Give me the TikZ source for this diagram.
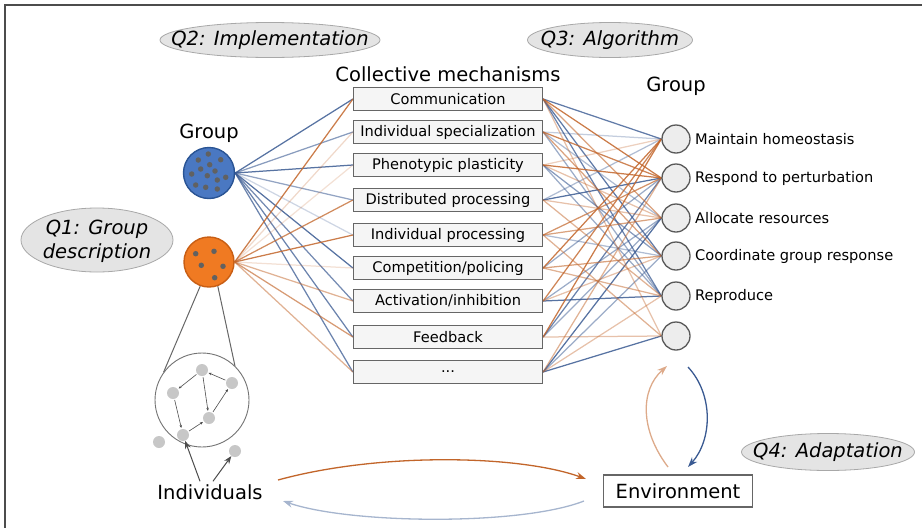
\documentclass[tikz,border=0pt]{standalone}
\usepackage{fontspec}
\setmainfont{DejaVu Sans}
\usetikzlibrary{shapes.geometric,arrows.meta,calc}
\pgfdeclarelayer{bg}
\pgfsetlayers{bg,main}
\definecolor{lb}{HTML}{3A5A92}
\definecolor{lo}{HTML}{C2652A}
\definecolor{gblue}{HTML}{4A78C2}
\definecolor{gblueb}{HTML}{2A5494}
\definecolor{gor}{HTML}{F07A22}
\definecolor{gorb}{HTML}{C85E14}
\definecolor{qfill}{HTML}{E4E4E4}
\definecolor{qdraw}{HTML}{A8A8A8}
\newcommand{\bigf}{\fontsize{19.5}{22}\selectfont}
\newcommand{\smf}{\fontsize{14.6}{17}\selectfont}
\newcommand{\mydots}{...}
\tikzset{
  frameline/.style={draw=black!70, line width=2},
  mechbox/.style={draw=black!60, fill=black!4, line width=1.2, minimum width=189, minimum height=23, inner sep=0, font=\smf},
  outc/.style={circle, draw=black!65, fill=black!7, line width=1.3, minimum size=28, inner sep=0},
  qtext/.style={inner sep=0, font=\bigf\itshape},
  qell/.style={draw=qdraw, fill=qfill, line width=0.8},
  dotg/.style={circle, fill=black!62, minimum size=5.5, inner sep=0},
  netdot/.style={circle, fill=black!22, minimum size=12, inner sep=0},
  link/.style={line width=1.25},
  netarrow/.style={draw=black!70, line width=0.6, -{Stealth[length=3pt,width=2.5pt]}, shorten >=1pt, shorten <=1pt},
  lbl/.style={inner sep=0, font=\bigf},
  rlbl/.style={inner sep=0, font=\smf, anchor=west}
}
\begin{document}
\begin{tikzpicture}[x=1pt,y=-1pt]
\useasboundingbox (0,0) rectangle (922,528);
\draw[frameline] (5,528) -- (5,5) -- (922,5);

% Question labels with ellipses
\node[qtext] (q2) at (270,40) {Q2: Implementation};
\node[qtext] (q3) at (610,40) {Q3: Algorithm};
\node[qtext, align=center] (q1) at (97,241) {Q1: Group\\[2pt]description};
\node[qtext] (q4) at (828,452) {Q4: Adaptation};
\begin{pgfonlayer}{bg}
\path[qell] (97,240) ellipse [x radius=76, y radius=32];
\path[qell] (q2) ellipse [x radius=110, y radius=17.5];
\path[qell] (q3) ellipse [x radius=82.5, y radius=17.5];
\path[qell] (q4) ellipse [x radius=86.5, y radius=18.5];
\end{pgfonlayer}

% Titles
\node[lbl] (tcm) at (448,74) {Collective mechanisms};
\node[lbl] (tgl) at (209,133) {Group};
\node[lbl] (tgr) at (676,86) {Group};

% Mechanism boxes
\foreach \y/\t [count=\i] in {99/Communication, 132/Individual specialization, 165/Phenotypic plasticity, 200/Distributed processing, 235/Individual processing, 268/Competition\slash policing, 301/Activation\slash inhibition, 337/Feedback, 372/\mydots}
  \node[mechbox] (m\i) at (448,\y) {\t};

% Output circles
\foreach \y [count=\j] in {139,178,218,256,296,336}
  \node[outc] (g\j) at (676,\y) {};
\node[rlbl] (l1) at (695,139) {Maintain homeostasis};
\node[rlbl] (l2) at (695,178) {Respond to perturbation};
\node[rlbl] (l3) at (695,218) {Allocate resources};
\node[rlbl] (l4) at (695,256) {Coordinate group response};
\node[rlbl] (l5) at (695,296) {Reproduce};

% Group circles
\node[circle, draw=gblueb, fill=gblue, line width=1.4, minimum size=51, inner sep=0] (gb) at (209,173) {};
\node[circle, draw=gorb, fill=gor, line width=1.4, minimum size=50, inner sep=0] (go) at (209,262) {};
\foreach \dx/\dy in {-0.7/-19, -10.7/-13, 11.7/-13.3, 0.7/-8.3, -8.3/-4, -17.3/1, -1.7/2.7, 16.7/4.3, 8.3/7, -13.3/12, -3.3/14.3, 8.3/16, 6/-2}
  \node[dotg] at ($(gb)+(\dx,\dy)$) {};
\foreach \dx/\dy in {-13.3/-8.3, 5/-10.7, -7.7/3.3, 14/4.3, 5.7/15.7}
  \node[dotg] at ($(go)+(\dx,\dy)$) {};

% Individuals network
\node[circle, draw=black!55, fill=white, line width=0.9, minimum size=94, inner sep=0] (nc) at (202,400) {};
\node[netdot] (n1) at (202,370) {};
\node[netdot] (n2) at (232,383) {};
\node[netdot] (n3) at (173,393) {};
\node[netdot] (n4) at (209,418) {};
\node[netdot] (n5) at (183,435) {};
\node[netdot] (n6) at (159,442) {};
\node[netdot] (n7) at (235,451) {};
\draw[netarrow] (n1) -- (n3);
\draw[netarrow] (n2) -- (n1);
\draw[netarrow] (n1) -- (n4);
\draw[netarrow] (n4) -- (n2);
\draw[netarrow] (n3) -- (n5);
\draw[netarrow] (n5) -- (n4);
\draw[draw=black!60, line width=1] (go.250) -- (nc.144);
\draw[draw=black!60, line width=1] (go.290) -- (nc.46);

\node[lbl] (ind) at (210,492) {Individuals};
\draw[draw=black!70, line width=1, -{Stealth[length=8pt,width=6pt]}] ($(ind.north)+(-10,-3)$) -- (n5);
\draw[draw=black!70, line width=1, -{Stealth[length=8pt,width=6pt]}] ($(ind.north)+(3,-3)$) -- (n7);

\node[draw=black!60, fill=white, line width=1.2, minimum width=149, minimum height=32, inner sep=0, font=\bigf] (env) at (678,491) {Environment};

% Loops
\coordinate (ia) at (278,480);
\coordinate (ea) at (586,479);
\coordinate (eb) at (584,501);
\coordinate (ib) at (283,501);
\draw[draw=lo, line width=1.3, -{Stealth[length=10pt,width=7pt]}] (ia) .. controls (380,452) and (520,455) .. (ea);
\draw[draw=lb!45, line width=1.3, -{Stealth[length=10pt,width=7pt]}] (eb) .. controls (520,526) and (350,524) .. (ib);
\coordinate (ua) at (668,467);
\coordinate (ub) at (667,366);
\coordinate (da) at (688,367);
\coordinate (db) at (688,467);
\draw[draw=lo!55, line width=1.3, -{Stealth[length=10pt,width=7pt]}] (ua) .. controls (640,430) and (640,390) .. (ub);
\draw[draw=lb, line width=1.3, -{Stealth[length=10pt,width=7pt]}] (da) .. controls (714,395) and (712,440) .. (db);

% Connectors (background)
\begin{pgfonlayer}{bg}
\foreach \i/\o in {1/0.85, 2/0.6, 3/0.85, 4/0.55, 5/0.25, 6/0.85, 7/0.7, 8/0.75, 9/0.75}
  \draw[link, draw=lb, opacity=\o] (gb.east) -- (m\i.west);
\foreach \i/\o in {1/0.85, 2/0.25, 3/0.2, 4/0.75, 5/0.85, 6/0.2, 7/0.5, 8/0.65, 9/0.5}
  \draw[link, draw=lo, opacity=\o] (go.east) -- (m\i.west);
\foreach \a/\b/\o in {1/1/0.8, 1/4/0.8, 1/5/0.75, 2/1/0.3, 2/3/0.4, 2/5/0.5, 3/4/0.6, 3/5/0.5, 4/2/0.85, 4/1/0.4, 5/4/0.4, 6/2/0.5, 7/5/0.85, 7/3/0.5, 8/2/0.75, 8/3/0.5, 9/3/0.85, 9/4/0.5, 9/6/0.85}
  \draw[link, draw=lb, opacity=\o] (m\a.east) -- (g\b.west);
\foreach \a/\b/\o in {1/2/0.85, 1/3/0.6, 1/6/0.4, 2/2/0.8, 2/4/0.6, 3/2/0.85, 3/1/0.3, 3/3/0.4, 4/3/0.4, 4/5/0.5, 5/2/0.7, 5/3/0.6, 5/6/0.5, 6/1/0.85, 6/4/0.6, 6/5/0.5, 7/1/0.8, 7/4/0.4, 8/1/0.85, 8/6/0.4, 9/2/0.5, 9/5/0.4}
  \draw[link, draw=lo, opacity=\o] (m\a.east) -- (g\b.west);
\end{pgfonlayer}
\end{tikzpicture}
\end{document}
